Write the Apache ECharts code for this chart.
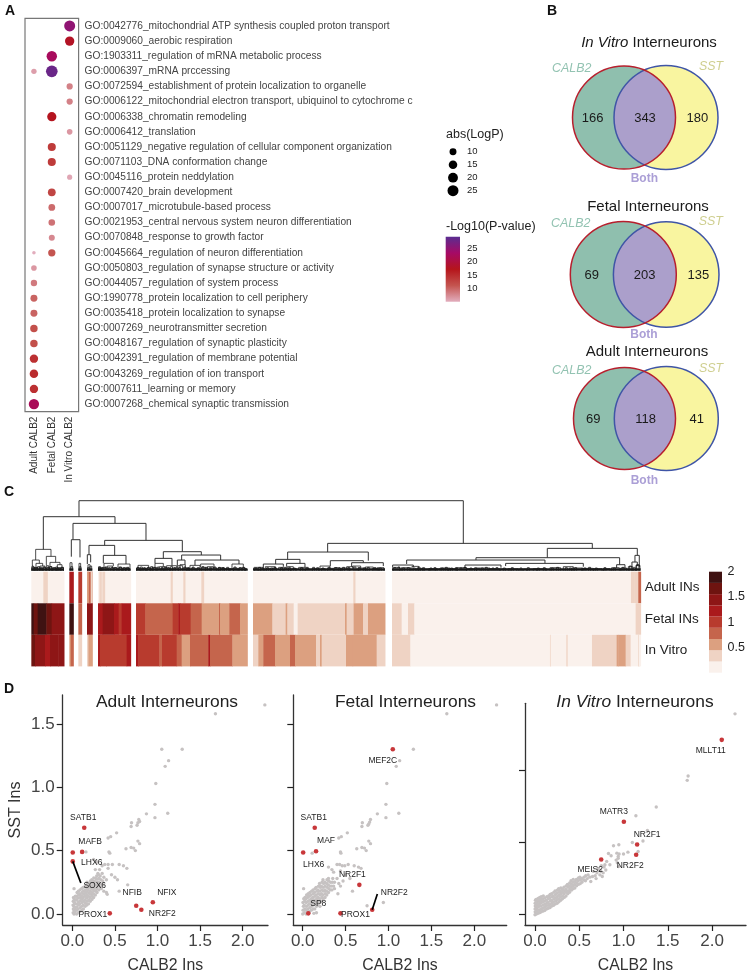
<!DOCTYPE html>
<html><head><meta charset="utf-8">
<style>html,body{margin:0;padding:0;background:#fff}#c{width:750px;height:975px}</style>
<script src="https://cdn.jsdelivr.net/npm/echarts@6/dist/echarts.min.js"></script>
</head><body><div id="c"></div>
<script>
const goTerms=["GO:0042776_mitochondrial ATP synthesis coupled proton transport","GO:0009060_aerobic respiration","GO:1903311_regulation of mRNA metabolic process","GO:0006397_mRNA prccessing","GO:0072594_establishment of protein localization to organelle","GO:0006122_mitochondrial electron transport, ubiquinol to cytochrome c","GO:0006338_chromatin remodeling","GO:0006412_translation","GO:0051129_negative regulation of cellular component organization","GO:0071103_DNA conformation change","GO:0045116_protein neddylation","GO:0007420_brain development","GO:0007017_microtubule-based process","GO:0021953_central nervous system neuron differentiation","GO:0070848_response to growth factor","GO:0045664_regulation of neuron differentiation","GO:0050803_regulation of synapse structure or activity","GO:0044057_regulation of system process","GO:1990778_protein localization to cell periphery","GO:0035418_protein localization to synapse","GO:0007269_neurotransmitter secretion","GO:0048167_regulation of synaptic plasticity","GO:0042391_regulation of membrane potential","GO:0043269_regulation of ion transport","GO:0007611_learning or memory","GO:0007268_chemical synaptic transmission"];
const goColumns=["Adult CALB2","Fetal CALB2","In Vitro CALB2"];
// [column, term row, -log10 p]
const goDots=[[2,0,25],[2,1,18],[1,2,22.5],[1,3,28],[0,3,6],[2,4,8],[2,5,8],[1,6,17.5],[2,7,6.5],[1,8,13.5],[1,9,13.5],[2,10,5.5],[1,11,12.5],[1,12,9.5],[1,13,9],[1,14,7.5],[1,15,11],[0,15,2.6],[0,16,6.5],[0,17,8.5],[0,18,10],[0,19,10],[0,20,11.5],[0,21,11.5],[0,22,14.5],[0,23,15],[0,24,14.5],[0,25,22]];
const pColors=["#e2adbd","#c4544f","#b5151b","#a60a66","#5a2d91"];
const sizeLegend=[10,15,20,25];
const pValueTicks=[10,15,20,25];

const vennTitles=["In Vitro Interneurons","Fetal Interneurons","Adult Interneurons"];
const vennCounts=[[166,343,180],[69,203,135],[69,118,41]];

const heatRows=["Adult INs","Fetal INs","In Vitro"];
const heatColors=["#faf1ec","#efd3c4","#dca080","#c5654c","#b83b2e","#aa1a1c","#8e1616","#6e1410","#3f1212"];
const heatKeyTicks=[0.5,1,1.5,2];
// [order from, order to, expression]
const adultRow=[[94,192,.1],[130,142,.33],[208,220,1.2],[235,245,.95],[261,277,.78],[261,265,.55],[272,277,.33],[294,392,.1],[298,304,.33],[307,314,.33],[408,742,.1],[512,517,.33],[550,555,.33],[604,611,.33],[759,1155,.1],[1060,1065,.33],[1176,1922,.1],[1893,1903,.33],[1903,1915,.4],[1915,1922,.7]];
const fetalRow=[[94,101,1.9],[101,113,1.67],[113,139,1.9],[139,155,1.67],[155,192,1.44],[208,220,1.9],[235,245,.78],[261,277,1.44],[294,308,1.22],[308,342,1.44],[342,356,1.22],[356,365,1.0],[365,392,1.22],[408,436,1.0],[436,518,.78],[518,535,1.0],[535,540,1.22],[540,572,1.0],[572,605,.78],[605,657,.55],[657,660,.78],[660,688,.55],[688,720,.78],[720,742,.55],[759,817,.55],[817,857,.33],[857,862,.55],[862,881,.33],[881,893,.1],[893,1035,.33],[1035,1040,.55],[1040,1061,.33],[1061,1089,.55],[1089,1104,.33],[1104,1155,.55],[1176,1205,.33],[1205,1224,.1],[1224,1243,.33],[1243,1907,.1],[1907,1922,.33]];
const vitroRow=[[94,105,1.67],[105,135,1.44],[135,150,1.22],[150,175,1.44],[175,192,1.44],[208,212,.55],[212,220,.78],[235,245,.33],[261,265,.33],[265,277,.55],[294,300,1.22],[300,318,1.0],[318,380,1.0],[380,392,1.22],[408,415,1.22],[415,478,1.0],[478,486,.78],[486,530,1.0],[530,545,.78],[545,570,.55],[570,625,.78],[625,630,1.22],[630,697,.78],[697,742,.55],[759,775,.33],[775,790,.55],[790,825,.78],[825,870,.55],[870,885,.78],[885,948,.55],[948,960,.33],[960,965,.55],[965,1038,.33],[1038,1058,.55],[1058,1130,.55],[1130,1155,.33],[1176,1231,.33],[1231,1650,.1],[1650,1652,.33],[1652,1699,.1],[1699,1703,.33],[1703,1776,.1],[1776,1850,.33],[1850,1855,.55],[1855,1877,.55],[1877,1892,.33],[1892,1915,.1],[1915,1917,.33],[1917,1922,.1]];
// dendrogram merges: [left, right, height, left child height, right child height]
const dendroTop=[[237,1390,210,162,82],[130,345,162,64,142],[219,438,142,93,91],[214,240,93,42,40],[314,547,91,76,57],[267,344,76,48,46],[262,272,48,20,25],[310,378,46,22,20],[490,604,57,37,47],[465,516,37,22,15],[545,662,47,32,32],[532,555,32,15,18],[585,717,32,16,20],[983,1777,82,56,67],[863,1105,56,34,30],[827,900,34,20,22],[790,850,20,10,12],[860,915,22,12,10],[991,1090,30,14,24],[1055,1150,24,12,14],[1642,1912,67,39,46],[1428,1859,39,32,18],[1220,1635,32,20,22],[1517,1750,22,14,12],[1395,1503,17,8,9],[1178,1240,17,9,10],[1905,1918,46,26,10],[1896,1912,26,10,14],[1850,1875,18,8,6]];
const dendroLow=[[107,153,64,32,43],[97,118,32,14,22],[139,167,43,15,25],[150,180,25,12,18],[108,128,22,10,14],[96,100,14],[102,106,10],[109,114,10],[120,135,14,8,9],[118,124,8],[130,138,9],[140,146,15],[148,156,12],[172,186,18,8,10],[160,170,8],[170,178,8],[182,190,10],[210,216,24],[212,218,12],[237,242,22],[238,243,12],[264,270,18],[263,268,10],[270,275,14],[296,302,12],[298,306,8],[312,340,22,10,14],[307,318,10],[322,338,14,6,8],[340,352,9],[354,390,20,10,8],[356,366,10],[368,386,8],[376,390,6],
[414,446,16,8,8],[410,420,8],[424,438,7],[440,452,8],[465,490,22,10,12],[456,470,10],[478,496,12,6,7],[482,490,6],[500,530,15,8,8],[496,510,8],[516,534,8],[533,548,15,8,6],[540,556,18,8,8],[548,566,8],[560,570,7],[570,600,16,8,7],[574,586,8],[590,600,7],[602,642,20,10,8],[604,618,10],[622,640,12,6,6],[632,650,8],[654,672,9],[660,690,6],[696,730,20,8,8],[700,712,8],[716,736,8],[690,700,6],[736,742,5],
[762,790,10,5,5],[764,774,5],[780,792,5],[796,826,12,6,6],[798,812,6],[816,830,7],[836,860,10,5,5],[840,850,5],[862,880,12,6,5],[864,872,6],[874,890,6],[896,925,10,5,5],[900,912,5],[916,930,5],[936,958,6],[960,990,14,6,7],[964,976,6],[982,1000,7],[1002,1020,9],[1024,1048,8],[1040,1060,12,5,6],[1058,1082,14,6,6],[1076,1098,8],[1096,1120,11,5,5],[1118,1136,7],[1132,1152,9],
[1180,1200,10],[1204,1232,9],[1236,1256,13],[1250,1270,7],[1262,1290,5],[1286,1312,6],[1306,1345,5],[1320,1350,8],[1345,1372,6],[1370,1400,9],[1400,1440,6],[1430,1470,8],[1466,1500,6],[1500,1530,5],[1525,1555,6],[1550,1580,4],[1570,1610,5],[1600,1640,6],[1650,1682,9],[1690,1720,12],[1716,1748,8],[1745,1780,7],[1780,1806,6],[1810,1830,6],[1835,1858,9],[1862,1880,8],[1885,1898,12],[1900,1906,10],[1908,1920,16]];
// finest merges just above the leaves: [left, right, height]
const dendroFine=[[96,103,11],[105,111,9],[113,119,12],[122,127,9],[129,136,11],[141,148,10],[150,155,12],[158,165,9],[167,173,11],[175,181,9],[184,190,10],[296,301,10],[304,311,9],[315,321,11],[325,330,9],[333,339,10],[343,349,9],[358,364,11],[370,376,9],[380,387,10],[411,417,10],[421,427,11],[431,436,9],[442,448,10],[452,458,12],[461,467,9],[472,477,11],[484,489,10],[493,499,11],[503,508,9],[512,518,12],[522,527,9],[536,541,10],[552,558,11],[563,568,9],[577,582,11],[592,598,9],[606,612,12],[617,623,10],[628,634,9],[642,648,11],[656,661,10],[667,673,9],[680,686,10],[702,708,11],[718,724,9],[728,734,10],[765,771,8],[776,782,10],[786,792,8],[800,806,9],[812,818,8],[822,828,10],[842,848,9],[853,858,8],[866,871,10],[880,886,8],[902,908,9],[918,924,8],[938,944,10],[950,956,9],[966,972,8],[984,990,10],[1005,1011,9],[1016,1022,8],[1028,1034,10],[1044,1050,9],[1062,1068,11],[1074,1080,9],[1090,1096,8],[1102,1108,10],[1122,1128,9],[1138,1144,8],[1182,1188,9],[1194,1199,11],[1208,1214,8],[1222,1228,9],[1240,1246,8],[1254,1260,11],[1268,1274,9],[1290,1296,8],[1302,1308,9],[1324,1330,8],[1336,1342,10],[1352,1358,8],[1366,1372,9],[1380,1386,8],[1392,1398,10],[1410,1416,8],[1424,1430,9],[1444,1450,8],[1456,1462,10],[1476,1482,8],[1488,1494,9],[1510,1516,8],[1534,1540,9],[1560,1566,8],[1582,1588,9],[1612,1618,8],[1630,1636,9],[1654,1660,8],[1670,1676,10],[1696,1702,9],[1708,1714,8],[1724,1730,9],[1752,1758,8],[1766,1772,10],[1786,1792,8],[1812,1818,9],[1840,1846,8],[1866,1872,10],[1888,1894,14],[1910,1917,18]];
const dendroBase=[[94,192],[208,220],[235,245],[261,277],[294,392],[408,742],[759,1155],[1176,1922]];

const scatterTicks=[0,0.5,1,1.5,2];
const adultPoints=[[2.26,1.65],[1.68,1.58],[1.05,1.30],[1.29,1.30],[1.13,1.21],[1.09,1.165],[0.98,1.03],[0.97,0.865],[0.87,0.79],[0.97,0.76],[1.12,0.795],[0.695,0.72],[0.69,0.69],[0.78,0.745],[0.79,0.73],[0.77,0.72],[0.76,0.70],[0.52,0.64],[0.42,0.60],[0.45,0.61],[0.77,0.575],[0.79,0.555],[0.69,0.525],[0.72,0.52],[0.63,0.515],[0.74,0.50],[0.43,0.49],[0.44,0.48],[0.16,0.49],[0.25,0.43],[0.29,0.41],[0.35,0.38],[0.38,0.39],[0.42,0.39],[0.47,0.39],[0.55,0.39],[0.6,0.38],[0.64,0.36],[0.42,0.36],[0.35,0.32],[0.37,0.29],[0.46,0.31],[0.5,0.29],[0.53,0.27],[0.65,0.23],[0.55,0.18],[0.02,0.2],[0.41,0.155],[0.4,0.27],[0.30,0.32],[0.27,0.35],[0.32,0.35],[0.4,0.17],[0.37,0.18],[0.34,0.2],
[.01,.01],[.012,.04],[.008,.07],[.011,.1],[.014,.13],[.02,.0],[.022,.03],[.019,.06],[.024,.09],[.021,.12],[.03,.02],[.034,.05],[.028,.08],[.033,.11],[.036,.14],[.05,.0],[.048,.03],[.052,.055],[.055,.08],[.049,.11],[.053,.14],[.056,.17],[.07,.01],[.068,.04],[.073,.07],[.072,.095],[.066,.125],[.074,.15],[.071,.18],[.09,.02],[.093,.05],[.088,.08],[.092,.105],[.094,.13],[.087,.16],[.091,.19],[.11,.03],[.108,.06],[.113,.09],[.112,.115],[.106,.145],[.115,.17],[.109,.2],[.13,.04],[.128,.07],[.133,.1],[.127,.13],[.134,.155],[.131,.18],[.126,.21],[.15,.06],[.153,.085],[.147,.11],[.152,.14],[.155,.165],[.148,.19],[.151,.22],[.17,.07],[.173,.1],[.168,.125],[.171,.15],[.166,.175],[.174,.2],[.169,.225],[.172,.25],[.19,.08],[.193,.11],[.188,.14],[.192,.165],[.186,.19],[.194,.215],[.191,.24],[.21,.1],[.207,.13],[.213,.155],[.209,.18],[.214,.205],[.206,.23],[.212,.26],[.23,.115],[.234,.14],[.228,.17],[.232,.195],[.227,.22],[.235,.245],[.229,.27],[.25,.13],[.247,.16],[.254,.185],[.249,.21],[.253,.235],[.246,.26],[.252,.285],[.27,.15],[.274,.18],[.268,.205],[.272,.23],[.267,.255],[.275,.28],[.29,.17],[.287,.2],[.294,.225],[.289,.25],[.293,.275],[.286,.3],[.31,.19],[.314,.22],[.308,.25],[.312,.28],[.307,.31],[.33,.21],[.328,.24],[.334,.27],[.327,.3],[.36,.23],[.357,.26]];
const fetalPoints=[[2.26,1.65],[1.68,1.58],[1.29,1.30],[1.13,1.21],[1.09,1.165],[0.98,1.03],[0.97,0.865],[0.87,0.79],[0.97,0.76],[1.12,0.795],[0.695,0.72],[0.69,0.69],[0.79,0.745],[0.78,0.725],[0.77,0.71],[0.76,0.70],[0.52,0.64],[0.42,0.60],[0.45,0.61],[0.77,0.575],[0.79,0.555],[0.69,0.525],[0.72,0.52],[0.63,0.515],[0.74,0.50],[0.44,0.49],[0.445,0.48],[0.11,0.48],[0.3,0.37],[0.4,0.39],[0.43,0.39],[0.46,0.38],[0.49,0.38],[0.53,0.39],[0.6,0.38],[0.65,0.37],[0.68,0.36],[0.34,0.35],[0.36,0.33],[0.44,0.34],[0.5,0.31],[0.55,0.28],[0.47,0.26],[0.42,0.24],[0.44,0.22],[0.37,0.2],[0.58,0.18],[0.41,0.16],[0.75,0.065],[0.94,0.09],[0.01,0.2],[0.3,0.28],[0.35,0.28],[0.4,0.28],[.16,.01],[.13,.005],[.2,.06],
[.0,.0],[.004,.03],[.008,.06],[.003,.09],[.012,.12],[.02,.01],[.024,.04],[.018,.07],[.022,.1],[.026,.13],[.04,.0],[.038,.03],[.043,.06],[.041,.09],[.036,.12],[.045,.15],[.06,.015],[.058,.04],[.063,.07],[.061,.1],[.056,.13],[.064,.16],[.08,.02],[.083,.05],[.078,.08],[.082,.11],[.076,.14],[.084,.17],[.1,.03],[.103,.06],[.098,.09],[.102,.12],[.096,.15],[.104,.18],[.12,.04],[.118,.07],[.123,.1],[.117,.13],[.124,.16],[.121,.19],[.14,.04],[.143,.08],[.138,.11],[.142,.14],[.136,.17],[.144,.2],[.16,.06],[.157,.09],[.163,.12],[.158,.15],[.164,.18],[.156,.21],[.18,.07],[.183,.1],[.178,.13],[.182,.16],[.176,.19],[.184,.22],[.2,.09],[.197,.12],[.203,.15],[.198,.18],[.204,.21],[.196,.24],[.22,.1],[.224,.13],[.218,.16],[.222,.19],[.217,.22],[.225,.25],[.24,.12],[.237,.15],[.244,.18],[.239,.21],[.243,.24],[.236,.27],[.26,.13],[.264,.16],[.258,.19],[.262,.22],[.257,.25],[.28,.15],[.277,.18],[.284,.21],[.279,.24],[.283,.27],[.3,.17],[.304,.2],[.298,.23],[.302,.26],[.32,.19],[.318,.22],[.324,.25],[.34,.19],[.338,.22],[.345,.25],[.36,.22],[.37,.25]];
const vitroPoints=[[2.26,1.39],[1.73,0.96],[1.72,0.93],[1.37,0.745],[1.14,0.685],[1.27,0.583],[1.22,0.51],[1.10,0.5],[0.947,0.484],[0.887,0.477],[1.165,0.438],[1.05,0.433],[1.0,0.42],[0.925,0.426],[0.94,0.403],[0.83,0.424],[0.86,0.408],[0.917,0.378],[0.944,0.334],[0.81,0.369],[0.79,0.346],[0.846,0.346],[0.745,0.30],[0.76,0.265],[0.733,0.276],[0.78,0.33],[0.8,0.31],[0.94,0.39],[0.93,0.36],[0.95,0.42],
[.0,.0],[.002,.02],[.001,.04],[.003,.06],[.002,.08],[.005,.1],[.012,.005],[.014,.025],[.011,.045],[.013,.065],[.015,.085],[.012,.105],[.025,.008],[.027,.03],[.024,.05],[.028,.07],[.026,.09],[.029,.11],[.04,.012],[.043,.032],[.038,.055],[.042,.075],[.045,.095],[.041,.115],[.055,.015],[.058,.035],[.054,.06],[.057,.08],[.06,.1],[.056,.12],[.07,.02],[.073,.04],[.069,.06],[.072,.085],[.075,.105],[.071,.125],[.09,.025],[.088,.045],[.093,.068],[.091,.09],[.087,.11],[.094,.13],[.11,.03],[.108,.052],[.113,.073],[.106,.095],[.112,.117],[.13,.04],[.128,.06],[.133,.08],[.127,.1],[.134,.125],[.15,.045],[.153,.065],[.147,.085],[.152,.11],[.155,.13],[.17,.05],[.168,.072],[.173,.095],[.167,.118],[.171,.14],[.19,.06],[.193,.08],[.187,.1],[.192,.125],[.188,.145],[.21,.065],[.208,.088],[.213,.11],[.207,.13],[.212,.155],[.23,.075],[.233,.095],[.228,.118],[.232,.14],[.227,.165],[.25,.08],[.248,.105],[.253,.125],[.247,.15],[.252,.17],[.27,.09],[.273,.11],[.268,.135],[.272,.155],[.267,.18],[.29,.1],[.288,.125],[.293,.145],[.287,.165],[.292,.185],[.31,.11],[.313,.13],[.308,.155],[.312,.175],[.33,.12],[.328,.145],[.334,.165],[.327,.19],[.35,.13],[.353,.155],[.348,.175],[.352,.2],[.37,.145],[.368,.165],[.373,.19],[.367,.21],[.39,.155],[.393,.175],[.388,.2],[.392,.22],[.41,.17],[.408,.19],[.413,.21],[.407,.235],[.43,.18],[.433,.2],[.428,.225],[.432,.245],[.45,.185],[.448,.21],[.453,.23],[.47,.2],[.473,.22],[.468,.245],[.49,.21],[.487,.235],[.492,.255],[.51,.215],[.513,.24],[.508,.26],[.53,.225],[.527,.25],[.55,.24],[.553,.26],[.57,.235],[.573,.27],[.59,.25],[.6,.275],[.62,.26],[.63,.23],[.65,.265],[.66,.3],[.68,.27],[.69,.25],[.7,.29],[.71,.32],[.73,.31],[.75,.34],[.77,.29]];
const adultGenes=[["SATB1",.14,.68],["MAFB",.115,.49],["LHX6",.005,.485],["SOX6",.005,.415],["NFIB",.75,.065],["NFIX",.945,.093],["NR2F2",.81,.033],["PROX1",.44,.005]];
const fetalGenes=[["SATB1",.14,.68],["MAF",.155,.495],["LHX6",.005,.485],["NR2F1",.66,.23],["MEF2C",1.05,1.30],["SP8",.065,.005],["PROX1",.44,.005],["NR2F2",.81,.033]];
const vitroGenes=[["MLLT11",2.11,1.21],["MATR3",1.004,.643],["NR2F1",1.154,.486],["NR2F2",1.143,.415],["MEIS2",.748,.382]];
const adultLeader=[[.005,.415],[.1,.245]];
const fetalLeader=[[.81,.033],[.87,.157]];

// ---- layout & styles (pixels)
const FF='"Liberation Sans",Arial,sans-serif';
const chart=echarts.init(document.getElementById('c'));
const vennGeom=[
 {l:[84,77.5,51.5],r:[126,77.5,52],n:[[52.7,78],[105,78],[157.3,78]],a:[31.7,28.3],s:[171,27],b:[104.3,138.7]},
 {l:[83.3,234.5,53],r:[126.2,234.5,52.8],n:[[51.7,235],[104.7,235],[158.3,235]],a:[30.7,184],s:[170.7,182],b:[104,295]},
 {l:[84.5,378.5,51],r:[126.3,378.5,52],n:[[53.3,379],[105.7,379],[156.7,379]],a:[31.7,330.7],s:[171,329],b:[104.3,441]}];
const vennTitlePos=[[649,43],[648,207],[647,352]];
const labelOffsets={
 adult:{SATB1:[-1,-10],MAFB:[8,-10],LHX6:[19,10],SOX6:[22,24],NFIB:[-4,-13],NFIX:[14,-10],NR2F2:[21,4],PROX1:[-17,1]},
 fetal:{SATB1:[-1,-10],MAF:[10,-11],LHX6:[10.5,12],NR2F1:[-7,-10],MEF2C:[-10,11],SP8:[10,-10],PROX1:[15,1],NR2F2:[22,-17]},
 vitro:{MLLT11:[-11,11],MATR3:[-10,-10],NR2F1:[10,-10],NR2F2:[-6,11],MEIS2:[-11,10]}};

function t(text,x,y,size,extra){return {text,left:x,top:y,padding:0,textAlign:'center',textVerticalAlign:'middle',textStyle:Object.assign({fontFamily:FF,fontSize:size,fontWeight:'normal',color:'#1a1a1a',rich:{i:{fontFamily:FF,fontStyle:'italic',fontSize:size,color:'#1a1a1a'}}},extra||{})};}
const titles=[
 t('A',10,11,14,{fontWeight:'bold',color:'#111'}),t('B',552,11,14,{fontWeight:'bold',color:'#111'}),t('C',9,492,14,{fontWeight:'bold',color:'#111'}),t('D',9,689,14,{fontWeight:'bold',color:'#111'}),
 Object.assign(t('abs(LogP)',446,135,12.5,{color:'#222'}),{textAlign:'left'}),
 Object.assign(t('-Log10(P-value)',446,227,12.5,{color:'#222'}),{textAlign:'left'}),
 t('{i|In Vitro} Interneurons',vennTitlePos[0][0],vennTitlePos[0][1],15),
 t(vennTitles[1],vennTitlePos[1][0],vennTitlePos[1][1],15),
 t(vennTitles[2],vennTitlePos[2][0],vennTitlePos[2][1],15),
 t('Adult Interneurons',167,702,17.4,{color:'#222'}),
 t('Fetal Interneurons',405.5,702,17.4,{color:'#222'}),
 t('{i|In Vitro} Interneurons',635,702,17.4,{color:'#222',rich:{i:{fontFamily:FF,fontStyle:'italic',fontSize:17.4,color:'#222'}}})
];

const hiddenAxis=(idx,min,max,inv)=>({type:'value',gridIndex:idx,min,max,inverse:!!inv,show:false});
const grids=[
 {left:25,top:18.4,width:53.6,height:393.2,show:true,borderColor:'#777',borderWidth:1.2,backgroundColor:'#fff'},
 {left:446,top:145.2,width:14,height:52},
 {left:445.7,top:236.7,width:14.3,height:65},
 {left:540,top:40,width:210,height:450},
 {left:31.33,top:500.7,width:609.3,height:70},
 {left:31.33,top:571.7,width:609.3,height:94.7},
 {left:709,top:571.7,width:13,height:101},
 {left:62.7,top:695,width:205.3,height:230.3},
 {left:293.3,top:695,width:213.4,height:230.3},
 {left:525,top:703.3,width:221,height:222}
];
const scatterRange=[
 {x:[-.113,2.297],y:[-.087,1.728]},
 {x:[-.11,2.378],y:[-.087,1.728]},
 {x:[-.113,2.384],y:[-.071,1.463]}];
const axStyle={lineStyle:{color:'#333',width:1.3}};
const tickStyle={length:6,lineStyle:{color:'#222',width:1.2}};
const xAxes=[
 {type:'category',gridIndex:0,data:goColumns,axisLine:{show:false},axisTick:{alignWithLabel:true,length:2.5,lineStyle:{color:'#666'}},axisLabel:{rotate:90,fontFamily:FF,fontSize:10,color:'#333',margin:5,interval:0}},
 {type:'category',gridIndex:1,data:['s'],show:false},
 hiddenAxis(2,0,1),
 hiddenAxis(3,0,210),
 hiddenAxis(4,94,1922),
 hiddenAxis(5,94,1922),
 hiddenAxis(6,0,1)
];
const yAxes=[
 {type:'category',gridIndex:0,data:goTerms,inverse:true,position:'right',axisLine:{show:false},axisTick:{alignWithLabel:true,length:2.5,lineStyle:{color:'#666'}},axisLabel:{fontFamily:FF,fontSize:10.2,color:'#444',margin:6,interval:0}},
 {type:'category',gridIndex:1,data:sizeLegend.map(String),inverse:true,position:'right',axisLine:{show:false},axisTick:{show:false},axisLabel:{fontFamily:FF,fontSize:9.5,color:'#222',margin:7,interval:0}},
 {type:'value',gridIndex:2,min:5,max:29.3,position:'right',splitLine:{show:false},axisLine:{show:false},axisTick:{inside:true,length:3,lineStyle:{color:'#fff'},customValues:pValueTicks},axisLabel:{fontFamily:FF,fontSize:9.5,color:'#222',margin:7,customValues:pValueTicks}},
 hiddenAxis(3,0,450,true),
 hiddenAxis(4,0,210),
 {type:'category',gridIndex:5,data:heatRows,inverse:true,position:'right',axisLine:{show:false},axisTick:{show:false},axisLabel:{fontFamily:FF,fontSize:13.5,color:'#222',margin:4}},
 {type:'value',gridIndex:6,min:0,max:2,position:'right',splitLine:{show:false},axisLine:{show:false},axisTick:{show:false,customValues:heatKeyTicks},axisLabel:{fontFamily:FF,fontSize:12.5,color:'#222',margin:5.5,customValues:heatKeyTicks,formatter:v=>String(v),showMaxLabel:true}}
];
scatterRange.forEach((r,i)=>{
 const g=7+i;
 xAxes.push({type:'value',gridIndex:g,min:r.x[0],max:r.x[1],splitLine:{show:false},axisLine:Object.assign({onZero:false},axStyle),
  axisTick:Object.assign({customValues:scatterTicks},tickStyle),
  axisLabel:{customValues:scatterTicks,fontFamily:FF,fontSize:17,color:'#444',margin:8,formatter:v=>v.toFixed(1)},
  name:'CALB2 Ins',nameLocation:'middle',nameGap:33,nameTextStyle:{fontFamily:FF,fontSize:15.8,color:'#333'}});
 const yt=i===2?[0,.5,1]:[0,.5,1,1.5];
 yAxes.push({type:'value',gridIndex:g,min:r.y[0],max:r.y[1],splitLine:{show:false},axisLine:Object.assign({onZero:false},axStyle),
  axisTick:Object.assign({customValues:yt},tickStyle),
  axisLabel:i===0?{customValues:yt,fontFamily:FF,fontSize:17,color:'#444',margin:8,formatter:v=>v.toFixed(1)}:{show:false},
  name:i===0?'SST Ins':'',nameLocation:'middle',nameGap:39,nameRotate:90,nameTextStyle:{fontFamily:FF,fontSize:16,color:'#333'}});
});

function lens(L,R){ // outline of the overlap of two circles given in pixels
 const d=R[0]-L[0];const a=(d*d+L[2]*L[2]-R[2]*R[2])/(2*d);const h=Math.sqrt(L[2]*L[2]-a*a);
 const ang1=Math.atan2(h,a),ang2=Math.atan2(h,a-d);const pts=[];
 for(let i=0;i<=60;i++){const th=-ang1+2*ang1*i/60;pts.push([L[0]+L[2]*Math.cos(th),L[1]+L[2]*Math.sin(th)]);}
 for(let i=0;i<=60;i++){const th=ang2+(2*Math.PI-2*ang2)*i/60;pts.push([R[0]+R[2]*Math.cos(th),R[1]+R[2]*Math.sin(th)]);}
 return pts;
}
function vennItem(params,api){
 const i=api.value(0),g=vennGeom[i];
 const px=c=>{const p=api.coord([c[0],c[1]]);return [p[0],p[1],c[2]];};
 const L=px(g.l),R=px(g.r);
 const txt=(c,text,style)=>{const p=api.coord(c);return {type:'text',style:Object.assign({text:String(text),x:p[0],y:p[1],align:'center',verticalAlign:'middle',fontFamily:FF},style)};};
 const circ=(C,style)=>({type:'circle',shape:{cx:C[0],cy:C[1],r:C[2]},style});
 const ch=[
  circ(L,{fill:'#8fbfae'}),circ(R,{fill:'#f9f5a0'}),
  {type:'polygon',shape:{points:lens(L,R)},style:{fill:'#ab9fcb'}},
  circ(R,{fill:null,stroke:'#3f55a6',lineWidth:1.5}),circ(L,{fill:null,stroke:'#b71f2d',lineWidth:1.5})];
 g.n.forEach((c,k)=>ch.push(txt(c,vennCounts[i][k],{fontSize:13,fill:'#1a1a1a'})));
 ch.push(txt(g.a,'CALB2',{fontSize:12.4,fontStyle:'italic',fill:'#93c3b2'}));
 ch.push(txt(g.s,'SST',{fontSize:12.4,fontStyle:'italic',fill:'#cfcf90'}));
 ch.push(txt(g.b,'Both',{fontSize:12,fontWeight:'bold',fill:'#ab9fd6'}));
 return {type:'group',children:ch};
}
const levelColor=v=>heatColors[Math.min(8,Math.floor(v/2*9))];
function heatItem(params,api){
 const row=api.value(2),band=api.size([0,1])[1];
 const a=api.coord([api.value(0),row]),b=api.coord([api.value(1),row]);
 return {type:'rect',shape:{x:a[0],y:a[1]-band/2,width:b[0]-a[0]+.5,height:band},style:{fill:levelColor(api.value(3))}};
}
function dendroItem(width,color){return function(params,api){
 const x1=api.value(0),x2=api.value(1),top=api.value(2),hl=api.value(3),hr=api.value(4);
 return {type:'polyline',shape:{points:[api.coord([x1,hl]),api.coord([x1,top]),api.coord([x2,top]),api.coord([x2,hr])]},style:{fill:null,stroke:color,lineWidth:width}};
};}
const geneSeries=(key,genes,xi)=>({type:'scatter',xAxisIndex:xi,yAxisIndex:xi,symbolSize:4.6,z:5,itemStyle:{color:'#c8373a',opacity:1},
 data:genes.map(g=>({name:g[0],value:[g[1],g[2]],label:{show:true,position:'inside',offset:labelOffsets[key][g[0]],formatter:g[0],fontFamily:FF,fontSize:8.5,color:'#222'}}))});
const greySeries=(pts,xi)=>({type:'scatter',xAxisIndex:xi,yAxisIndex:xi,symbolSize:3.4,itemStyle:{color:'#c6c2c2',opacity:1},silent:true,data:pts});
const leader=(pts,xi)=>({type:'line',xAxisIndex:xi,yAxisIndex:xi,symbol:'none',z:6,lineStyle:{color:'#000',width:1.7},data:pts});

const series=[
 {type:'scatter',xAxisIndex:0,yAxisIndex:0,data:goDots,symbolSize:v=>2.2*Math.sqrt(v[2]),itemStyle:{opacity:1}},
 {type:'scatter',xAxisIndex:1,yAxisIndex:1,data:sizeLegend.map((v,i)=>['s',i,v]),symbolSize:v=>2.2*Math.sqrt(v[2]),itemStyle:{color:'#000',opacity:1}},
 {type:'custom',xAxisIndex:2,yAxisIndex:2,data:[[0,5,29.3]],encode:{x:0,y:[1,2]},renderItem(p,api){
   const a=api.coord([0,api.value(1)]),b=api.coord([1,api.value(2)]);
   return {type:'rect',shape:{x:a[0],y:b[1],width:b[0]-a[0],height:a[1]-b[1]},style:{fill:new echarts.graphic.LinearGradient(0,1,0,0,pColors.map((c,i)=>({offset:i/(pColors.length-1),color:c})))}};
 }},
 {type:'custom',xAxisIndex:3,yAxisIndex:3,data:vennCounts.map((c,i)=>[i,...c]),encode:{x:-1,y:-1},clip:false,renderItem:vennItem},
 {type:'custom',xAxisIndex:4,yAxisIndex:4,data:dendroTop,encode:{x:[0,1],y:[2,3,4]},clip:false,renderItem:dendroItem(1,'#333')},
 {type:'custom',xAxisIndex:4,yAxisIndex:4,data:dendroLow.map(d=>d.length===5?d:[d[0],d[1],d[2],0,0]),encode:{x:[0,1],y:[2,3,4]},clip:false,renderItem:dendroItem(.8,'#222')},
 {type:'custom',xAxisIndex:4,yAxisIndex:4,data:dendroFine.map(d=>[d[0],d[1],d[2],0,0]),encode:{x:[0,1],y:[2,3,4]},clip:false,renderItem:dendroItem(.8,'#111')},
 {type:'custom',xAxisIndex:4,yAxisIndex:4,data:dendroBase,encode:{x:[0,1]},renderItem(p,api){
   const a=api.coord([api.value(0),0]),b=api.coord([api.value(1),7]);
   return {type:'rect',shape:{x:a[0],y:b[1],width:b[0]-a[0],height:a[1]-b[1]},style:{fill:'#1a1a1a'}};
 }},
 ...[adultRow,fetalRow,vitroRow].map((r,i)=>({type:'custom',xAxisIndex:5,yAxisIndex:5,data:r.map(s=>[s[0],s[1],i,s[2]]),encode:{x:[0,1],y:2},clip:false,renderItem:heatItem})),
 {type:'custom',xAxisIndex:6,yAxisIndex:6,data:heatColors.map((c,i)=>[i*2/9,(i+1)*2/9,i]),encode:{y:[0,1]},renderItem(p,api){
   const a=api.coord([0,api.value(0)]),b=api.coord([1,api.value(1)]);
   return {type:'rect',shape:{x:a[0],y:b[1],width:b[0]-a[0],height:a[1]-b[1]},style:{fill:heatColors[api.value(2)]}};
 }},
 greySeries(adultPoints,7),leader(adultLeader,7),geneSeries('adult',adultGenes,7),
 greySeries(fetalPoints,8),leader(fetalLeader,8),geneSeries('fetal',fetalGenes,8),
 greySeries(vitroPoints,9),geneSeries('vitro',vitroGenes,9)
];
chart.setOption({animation:false,backgroundColor:'#fff',title:titles,grid:grids,xAxis:xAxes,yAxis:yAxes,series,
 visualMap:[{show:false,seriesIndex:0,dimension:2,min:5,max:29.3,inRange:{color:pColors}}]});
</script></body></html>
